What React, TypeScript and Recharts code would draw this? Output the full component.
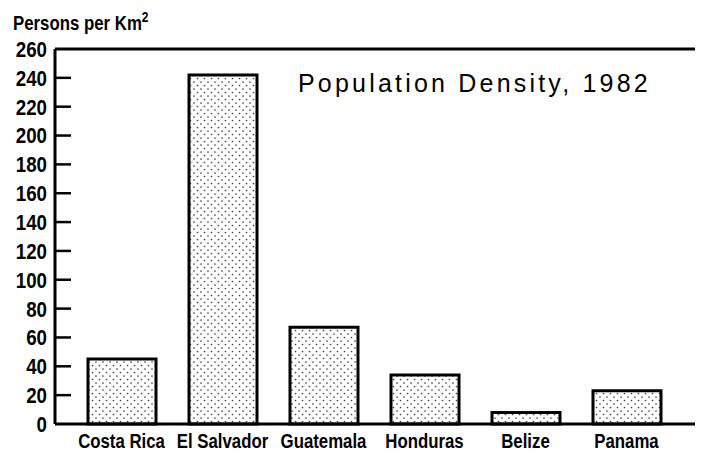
import { Bar, BarChart, ReferenceLine, XAxis, YAxis } from "recharts";

const countries = ["Costa Rica", "El Salvador", "Guatemala", "Honduras", "Belize", "Panama"];
const density = [45, 242, 67, 34, 8, 23];
const yTicks = [0, 20, 40, 60, 80, 100, 120, 140, 160, 180, 200, 220, 240, 260];

const data = countries.map((name, i) => ({ name, value: density[i] }));

const SANS = "'Liberation Sans', Arial, sans-serif";
// no narrow face installed, so squeeze the bold sans horizontally
const SQUEEZE = 0.8;

const isInner = (v: number) => v !== 0 && v !== 260;

export default function App() {
  return (
    <div style={{ position: "absolute", left: 0, top: 0, width: 706, height: 457, background: "#fff" }}>
      <svg width={0} height={0} style={{ position: "absolute" }}>
        <defs>
          <pattern id="dots" width={7} height={7} patternUnits="userSpaceOnUse">
            <rect width={7} height={7} fill="#fff" />
            <circle cx={1.5} cy={1.5} r={0.85} fill="#444" />
            <circle cx={5} cy={5} r={0.85} fill="#444" />
          </pattern>
        </defs>
      </svg>
      <div
        style={{
          position: "absolute", left: 13, top: 12, fontFamily: SANS, fontWeight: 700,
          fontSize: 21, lineHeight: "21px", color: "#000", whiteSpace: "nowrap",
          transform: `scaleX(${SQUEEZE})`, transformOrigin: "left top",
        }}
      >
        Persons per Km<sup style={{ fontSize: 15, verticalAlign: "top", position: "relative", top: -6 }}>2</sup>
      </div>
      <div
        style={{
          position: "absolute", left: 298, top: 71, fontFamily: SANS, fontSize: 25,
          lineHeight: "25px", letterSpacing: 3.2, color: "#000", whiteSpace: "nowrap", zIndex: 2,
        }}
      >
        Population Density, 1982
      </div>
      <BarChart width={706} height={457} data={data} margin={{ top: 49, right: 11, bottom: 0, left: 0 }}>
        <XAxis
          dataKey="name"
          height={33}
          padding={{ left: 16, right: 18 }}
          tickLine={false}
          tickSize={0}
          tickMargin={8}
          axisLine={{ stroke: "#000", strokeWidth: 3 }}
          interval={0}
          tick={(p: any) => (
            <g transform={`translate(${p.x},${p.y}) scale(${SQUEEZE},1)`}>
              <text
                x={0}
                y={0}
                dy="0.78em"
                textAnchor="middle"
                fill="#000"
                fontFamily={SANS}
                fontWeight={700}
                fontSize={21}
              >
                {p.payload.value}
              </text>
            </g>
          )}
        />
        <YAxis
          yAxisId="left"
          width={55}
          domain={[0, 260]}
          ticks={yTicks}
          interval={0}
          tickLine={false}
          tickSize={0}
          tickMargin={8}
          axisLine={{ stroke: "#000", strokeWidth: 3 }}
          tick={(p: any) => (
            <g>
              <g transform={`translate(${p.x},${p.y}) scale(0.85,1)`}>
                <text
                  x={0}
                  y={0}
                  dy="0.36em"
                  textAnchor="end"
                  fill="#000"
                  fontFamily={SANS}
                  fontWeight={700}
                  fontSize={22}
                >
                  {p.payload.value}
                </text>
              </g>
              {isInner(p.payload.value) && (
                <line x1={p.x + 8} x2={p.x + 24} y1={p.y} y2={p.y} stroke="#000" strokeWidth={2.5} />
              )}
            </g>
          )}
        />
        <YAxis
          yAxisId="right"
          orientation="right"
          width={0}
          domain={[0, 260]}
          ticks={yTicks}
          interval={0}
          tickLine={false}
          tickSize={0}
          tickMargin={0}
          axisLine={{ stroke: "#000", strokeWidth: 3 }}
          tick={(p: any) =>
            isInner(p.payload.value) ? (
              <line x1={p.x - 16} x2={p.x} y1={p.y} y2={p.y} stroke="#000" strokeWidth={2.5} />
            ) : (
              <g />
            )
          }
        />
        <ReferenceLine yAxisId="left" y={260} stroke="#000" strokeWidth={3} />
        <Bar
          yAxisId="left"
          dataKey="value"
          barSize={68}
          fill="url(#dots)"
          stroke="#000"
          strokeWidth={3}
          isAnimationActive={false}
        />
      </BarChart>
    </div>
  );
}
